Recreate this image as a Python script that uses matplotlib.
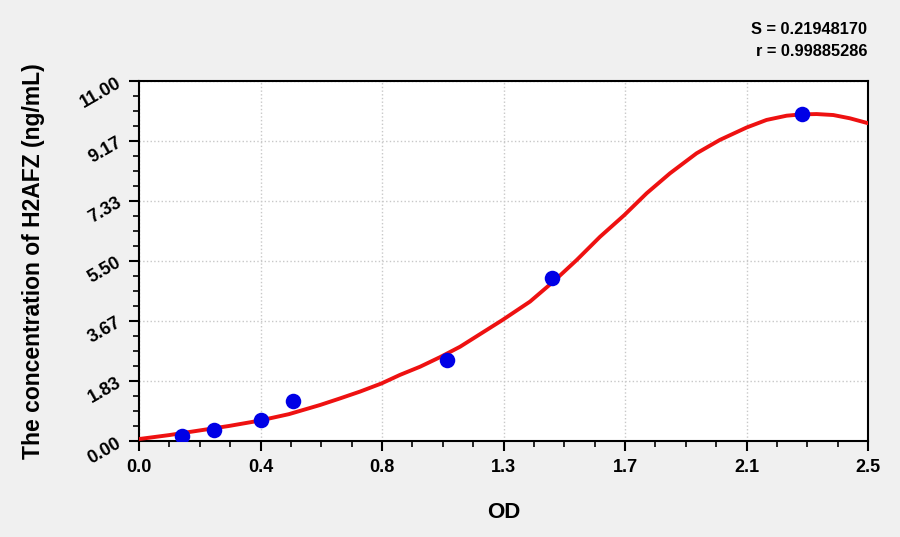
import matplotlib
matplotlib.use("Agg")
import matplotlib.pyplot as plt
from matplotlib.ticker import AutoMinorLocator

# standard points
od = [0.147, 0.257, 0.418, 0.529, 1.056, 1.416, 2.273]
conc = [0.14, 0.34, 0.64, 1.22, 2.48, 4.98, 9.99]

# fitted curve
curve_od = [0.0, 0.103, 0.206, 0.309, 0.412, 0.514, 0.621, 0.689, 0.758, 0.832,
            0.895, 0.964, 1.032, 1.101, 1.247, 1.341, 1.421, 1.501, 1.581, 1.664,
            1.741, 1.821, 1.912, 1.992, 2.084, 2.152, 2.221, 2.272, 2.324, 2.381,
            2.438, 2.5]
curve_conc = [0.06, 0.18, 0.32, 0.46, 0.62, 0.82, 1.10, 1.30, 1.51, 1.76,
              2.02, 2.27, 2.56, 2.88, 3.70, 4.26, 4.87, 5.53, 6.24, 6.90,
              7.57, 8.18, 8.79, 9.20, 9.58, 9.81, 9.94, 9.98, 9.99, 9.96,
              9.86, 9.71]

x_ticks = [0.0, 2.5 / 6, 2 * 2.5 / 6, 3 * 2.5 / 6, 4 * 2.5 / 6, 5 * 2.5 / 6, 2.5]
x_labels = ["0.0", "0.4", "0.8", "1.3", "1.7", "2.1", "2.5"]
y_ticks = [0.0, 11 / 6, 2 * 11 / 6, 3 * 11 / 6, 4 * 11 / 6, 5 * 11 / 6, 11.0]
y_labels = ["0.00", "1.83", "3.67", "5.50", "7.33", "9.17", "11.00"]

s_text = "S = 0.21948170"
r_text = "r = 0.99885286"

plt.rcParams["font.family"] = ["Liberation Sans", "DejaVu Sans"]
plt.rcParams["font.weight"] = "bold"

fig = plt.figure(figsize=(9, 5.37), dpi=100, facecolor="#f0f0f0")
ax = fig.add_axes([139 / 900, 1 - 441 / 537, 729 / 900, 360 / 537])
ax.set_facecolor("white")

ax.plot(curve_od, curve_conc, color="#ee1111", linewidth=2.8, zorder=3,
        solid_joinstyle="round", solid_capstyle="round")
ax.scatter(od, conc, s=125, color="#0000e6", zorder=4, linewidths=0)

ax.set_xlim(0, 2.5)
ax.set_ylim(0, 11)
ax.set_xticks(x_ticks)
ax.set_xticklabels(x_labels, fontsize=13, fontweight="bold")
ax.set_yticks(y_ticks)
ax.set_yticklabels(y_labels, fontsize=13, fontweight="bold", rotation=30)
ax.xaxis.set_minor_locator(AutoMinorLocator(4))
ax.yaxis.set_minor_locator(AutoMinorLocator(4))
ax.tick_params(which="major", length=7, width=1.5, direction="out")
ax.tick_params(which="minor", length=4, width=1.2, direction="out")
ax.tick_params(axis="x", pad=6)
for sp in ax.spines.values():
    sp.set_linewidth(1.5)

ax.grid(True, which="major", linestyle=":", color="#c8c8c8", linewidth=1)

ax.set_xlabel("OD", fontsize=16, fontweight="bold")
ax.xaxis.set_label_coords(0.5, -0.169)
ax.set_ylabel("The concentration of H2AFZ (ng/mL)", fontsize=16.5, fontweight="bold")
ax.yaxis.set_label_coords(-0.129, 0.5)

fig.text(867 / 900, 1 - 30 / 537, s_text, ha="right", va="center", fontsize=11.8, fontweight="bold")
fig.text(867 / 900, 1 - 51 / 537, r_text, ha="right", va="center", fontsize=11.8, fontweight="bold")

fig.savefig("out.png", dpi=100, facecolor=fig.get_facecolor())
